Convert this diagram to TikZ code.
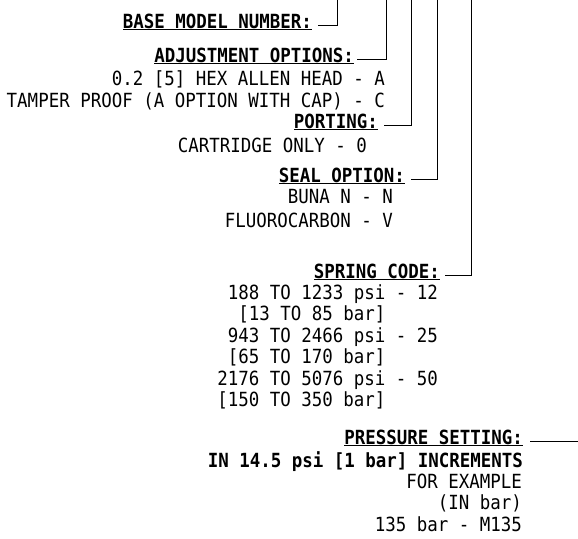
\documentclass[tikz,border=0pt]{standalone}
\usepackage{fontspec}
\newfontfamily\cadfont[FakeStretch=0.895]{DejaVu Sans Mono}
\newcommand{\hdtext}[1]{\underline{#1}}
\begin{document}
\begin{tikzpicture}[x=1pt, y=-1pt]
\tikzstyle{every node}=[inner sep=0pt, outer sep=0pt, anchor=base east, font=\cadfont\fontsize{19.5}{22}\selectfont]
\tikzstyle{hd}=[font=\cadfont\fontsize{19.5}{22}\selectfont\bfseries]
\useasboundingbox (0,0) rectangle (578,538);
\coordinate (t1) at (337,0);
\coordinate (t2) at (386,0);
\coordinate (t3) at (411,0);
\coordinate (t4) at (437,0);
\coordinate (t5) at (471,0);
\coordinate (rim) at (578,0);
\node[hd](h1) at (312,28) {\hdtext{BASE MODEL NUMBER:}};
\node[hd](h2) at (354,62) {\hdtext{ADJUSTMENT OPTIONS:}};
\node(a1) at (385,85) {0.2 [5] HEX ALLEN HEAD - A};
\node(a2) at (385,107) {TAMPER PROOF (A OPTION WITH CAP) - C};
\node[hd](h3) at (378,128) {\hdtext{PORTING:}};
\node(p1) at (367,152) {CARTRIDGE ONLY - 0};
\node[hd](h4) at (405,182) {\hdtext{SEAL OPTION:}};
\node(s1) at (393,203) {BUNA N - N};
\node(s2) at (393,227) {FLUOROCARBON - V};
\node[hd](h5) at (440,278) {\hdtext{SPRING CODE:}};
\node(c1) at (438,299) {188 TO 1233 psi - 12};
\node(c2) at (438,320.5) {[13 TO 85 bar]\phantom{ - 12}};
\node(c3) at (438,342) {943 TO 2466 psi - 25};
\node(c4) at (438,363.5) {[65 TO 170 bar]\phantom{ - 25}};
\node(c5) at (438,385) {2176 TO 5076 psi - 50};
\node(c6) at (438,406.5) {[150 TO 350 bar]\phantom{ - 50}};
\node[hd](h6) at (523,444) {\hdtext{PRESSURE SETTING:}};
\node[hd](e1) at (523,467) {IN 14.5 psi [1 bar] INCREMENTS};
\node(e2) at (522,488) {FOR EXAMPLE};
\node(e3) at (522,509) {(IN bar)};
\node(e4) at (522,531) {135 bar - M135};
\draw[line width=1pt] ([xshift=6pt]h1.mid east) -| (t1);
\draw[line width=1pt] ([xshift=3pt]h2.mid east) -| (t2);
\draw[line width=1pt] ([xshift=6pt]h3.mid east) -| (t3);
\draw[line width=1pt] ([xshift=6pt]h4.mid east) -| (t4);
\draw[line width=1pt] ([xshift=5pt]h5.mid east) -| (t5);
\draw[line width=1pt] ([xshift=7pt]h6.mid east) -- (h6.mid east -| rim);
\end{tikzpicture}
\end{document}
